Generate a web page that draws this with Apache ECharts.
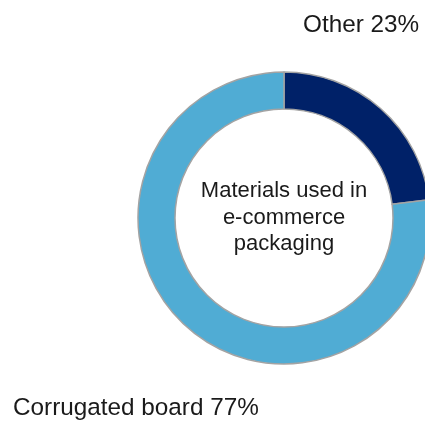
<!DOCTYPE html>
<html>
<head>
<meta charset="utf-8">
<style>
  html, body { margin: 0; padding: 0; background: #ffffff; }
  #chart { width: 425px; height: 421px; }
</style>
<script src="https://cdn.jsdelivr.net/npm/echarts@6/dist/echarts.min.js"></script>
</head>
<body>
<div id="chart"></div>
<script>
// Share of materials used in e-commerce packaging (%)
const categories = ['Other', 'Corrugated board'];
const shares = [23, 77];
const sliceColors = ['#002168', '#50acd4'];
const centerTitle = 'Materials used in\ne-commerce\npackaging';

const chart = echarts.init(document.getElementById('chart'), null, { renderer: 'canvas' });

const fontFamily = '"Liberation Sans", Arial, sans-serif';
const labelText = (i) => categories[i] + ' ' + shares[i] + '%';

chart.setOption({
  animation: false,
  backgroundColor: '#ffffff',
  series: [{
    type: 'pie',
    center: [284, 218],
    radius: [109, 146],
    startAngle: 90,
    clockwise: true,
    silent: true,
    label: { show: false },
    labelLine: { show: false },
    itemStyle: { borderColor: '#a3a3a3', borderWidth: 1.5 },
    data: categories.map((name, i) => ({
      name: name,
      value: shares[i],
      itemStyle: { color: sliceColors[i] }
    }))
  }],
  graphic: [
    {
      type: 'text', x: 303, y: 25,
      style: { text: labelText(0), fontSize: 24.3, fontFamily: fontFamily, fill: '#1a1a1a', verticalAlign: 'middle' }
    },
    {
      type: 'text', x: 13, y: 408.5,
      style: { text: labelText(1), fontSize: 24.3, fontFamily: fontFamily, fill: '#1a1a1a', verticalAlign: 'middle' }
    },
    {
      type: 'text', x: 284, y: 217.5,
      style: {
        text: centerTitle, fontSize: 22, lineHeight: 26.7, fontFamily: fontFamily,
        fill: '#1a1a1a', align: 'center', verticalAlign: 'middle'
      }
    }
  ]
});
</script>
</body>
</html>
